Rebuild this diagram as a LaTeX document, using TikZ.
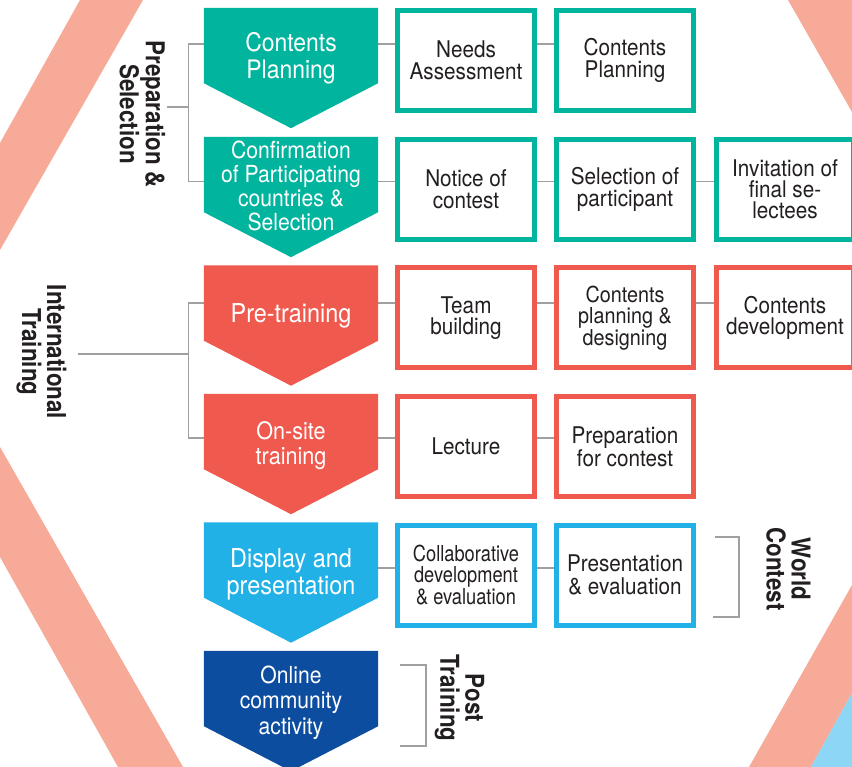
\documentclass[tikz,border=0pt]{standalone}
\usepackage{fontspec}
\setmainfont{TeX Gyre Heros}[FakeStretch=0.9]
\newfontfamily\condfont{TeX Gyre Heros}[FakeStretch=0.83]
\newfontfamily\lblfont{TeX Gyre Heros}[FakeStretch=0.86]
\usetikzlibrary{calc}
\pgfdeclarelayer{back}
\pgfdeclarelayer{bg}
\pgfsetlayers{back,bg,main}
\definecolor{cteal}{RGB}{0,180,157}
\definecolor{ccoral}{RGB}{240,89,78}
\definecolor{csky}{RGB}{33,177,230}
\definecolor{cnavy}{RGB}{13,77,160}
\definecolor{csalmon}{RGB}{247,170,152}
\definecolor{clblue}{RGB}{141,214,246}
\definecolor{cgrey}{RGB}{160,160,160}
\definecolor{ctext}{RGB}{35,31,32}
\begin{document}
\begin{tikzpicture}[x=1pt,y=-1pt,
  conn/.style={draw=cgrey, line width=1.3pt},
  stepbox/.style={draw, line width=5pt, fill=white, minimum width=137pt, minimum height=100pt,
    inner sep=0pt, align=center, text=ctext, font=\fontsize{23}{21.5}\selectfont},
  chevbody/.style={minimum width=174pt, minimum height=75pt, inner sep=0pt, draw=none},
  chevtext/.style={text=white, align=center, inner sep=0pt},
  sidelabel/.style={rotate=-90, align=center, inner sep=0pt, text=ctext,
    font=\lblfont\bfseries\fontsize{26}{25}\selectfont}
]
\useasboundingbox (0,0) rectangle (852,767);
\clip (0,0) rectangle (852,767);

% background decoration
\begin{pgfonlayer}{back}
\fill[white] (0,0) rectangle (852,767);
\fill[csalmon] (80,0) -- (143,0) -- (0,250) -- (0,143) -- cycle;
\fill[csalmon] (0,447) -- (183,767) -- (118,767) -- (0,557) -- cycle;
\fill[csalmon] (788,0) -- (852,0) -- (852,112) -- cycle;
\fill[csalmon] (852,585) -- (749,767) -- (811,767) -- (852,693) -- cycle;
\fill[clblue] (852,693) -- (811,767) -- (852,767) -- cycle;
\end{pgfonlayer}

% chevrons
\foreach \n/\y/\c in {cpb/45.5/cteal, cfb/174.5/cteal, ptb/303/ccoral, osb/431.5/ccoral, dpb/560/csky, ocb/688.5/cnavy}{
  \node[chevbody] (\n) at (291,\y) {};
  \fill[\c] (\n.north west) -- (\n.north east) -- (\n.south east) -- ($(\n.south)+(0,45)$) -- (\n.south west) -- cycle;
}
\node[chevtext, font=\fontsize{25.5}{27}\selectfont] (cpt) at (291,58.5) {Contents\\Planning};
\node[chevtext, font=\fontsize{23.5}{24}\selectfont] (cft) at (291,186) {Confirmation\\of Participating\\countries \&\\Selection};
\node[chevtext, font=\fontsize{26}{27}\selectfont] (ptt) at (291,315.8) {Pre-training};
\node[chevtext, font=\fontsize{24}{25}\selectfont] (ost) at (291,445.6) {On-site\\training};
\node[chevtext, font=\fontsize{26}{27}\selectfont] (dpt) at (291,574.3) {Display and\\presentation};
\node[chevtext, font=\fontsize{23.5}{25.5}\selectfont] (oct) at (291,702.5) {Online\\community\\activity};

% step boxes
\node[stepbox, draw=cteal] (a1) at (466,60.5) {Needs\\Assessment};
\node[stepbox, draw=cteal] (a2) at (625,60.5) {Contents\\Planning};
\node[stepbox, draw=cteal] (b1) at (466,189.5) {Notice of\\contest};
\node[stepbox, draw=cteal] (b2) at (625,189.5) {Selection of\\participant};
\node[stepbox, draw=cteal, font=\fontsize{23}{21}\selectfont] (b3) at (785,189.5) {Invitation of\\final se-\\lectees};
\node[stepbox, draw=ccoral] (c1) at (466,318) {Team\\building};
\node[stepbox, draw=ccoral, font=\fontsize{22}{21.5}\selectfont] (c2) at (625,318) {Contents\\planning \&\\designing};
\node[stepbox, draw=ccoral] (c3) at (785,318) {Contents\\development};
\node[stepbox, draw=ccoral] (d1) at (466,446.5) {Lecture};
\node[stepbox, draw=ccoral] (d2) at (625,446.5) {Preparation\\for contest};
\node[stepbox, draw=csky, font=\condfont\fontsize{22}{21.5}\selectfont] (e1) at (466,575) {Collaborative\\development\\\& evaluation};
\node[stepbox, draw=csky, font=\fontsize{23}{23}\selectfont] (e2) at (625,575) {Presentation\\\& evaluation};

% side labels
\node[sidelabel] (prep) at (142.5,114) {Preparation \&\\Selection};
\node[sidelabel] (intl) at (41.5,352) {International\\Training};
\node[sidelabel] (wcl) at (788.5,569) {World\\Contest};
\node[sidelabel] (ptl) at (459.5,698) {Post\\Training};

% connectors
\coordinate (r1) at (0,44);
\coordinate (r2) at (0,181.5);
\coordinate (r3) at (0,303);
\coordinate (r4) at (0,438);
\coordinate (r5) at (0,568);
\coordinate (pm) at (189,107);
\coordinate (im) at (189,354);
\coordinate (wct) at (715,537);
\coordinate (wcb) at (713,617);
\coordinate (ptop) at (400,665);
\coordinate (pbot) at (400,746);
\begin{pgfonlayer}{bg}
\draw[conn] (cpb.east |- r1) -- (a1.west |- r1);
\draw[conn] (a1.east |- r1) -- (a2.west |- r1);
\draw[conn] (cfb.east |- r2) -- (b1.west |- r2);
\draw[conn] (b1.east |- r2) -- (b2.west |- r2);
\draw[conn] (b2.east |- r2) -- (b3.west |- r2);
\draw[conn] (ptb.east |- r3) -- (c1.west |- r3);
\draw[conn] (c1.east |- r3) -- (c2.west |- r3);
\draw[conn] (c2.east |- r3) -- (c3.west |- r3);
\draw[conn] (osb.east |- r4) -- (d1.west |- r4);
\draw[conn] (d1.east |- r4) -- (d2.west |- r4);
\draw[conn] (dpb.east |- r5) -- (e1.west |- r5);
\draw[conn] (e1.east |- r5) -- (e2.west |- r5);
% brackets
\draw[conn] (cpb.west |- r1) -- ++(-15,0) |- (cfb.west |- r2);
\draw[conn] (pm) -- ++(-22,0);
\draw[conn] (ptb.west |- r3) -- ++(-15,0) |- (osb.west |- r4);
\draw[conn] (im) -- ++(-111,0);
\draw[conn] (wct) -- ++(24,0) |- (wcb);
\draw[conn] (ptop) -- ++(26,0) |- (pbot);
\end{pgfonlayer}
\end{tikzpicture}
\end{document}
